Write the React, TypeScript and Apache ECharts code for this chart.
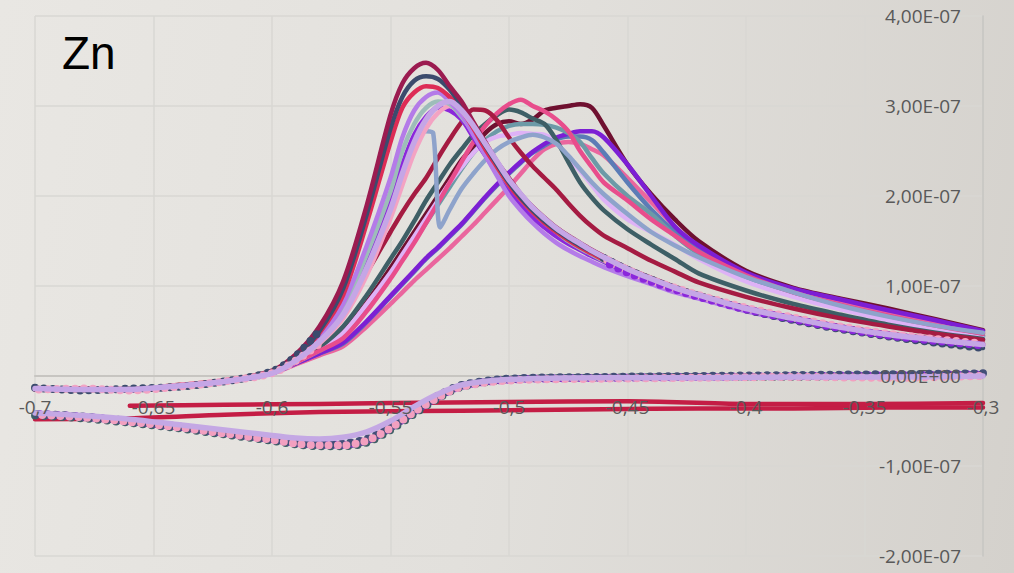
import React, { useEffect, useRef } from "react";
import * as echarts from "echarts";

// Potential (V) sampling of the forward (anodic) scans
const FWD_E = [-0.70, -0.68, -0.66, -0.64, -0.62, -0.60, -0.59, -0.58, -0.57, -0.56, -0.55, -0.545, -0.54, -0.535, -0.53, -0.525, -0.52, -0.515, -0.51, -0.505, -0.50, -0.495, -0.49, -0.485, -0.48, -0.475, -0.47, -0.465, -0.46, -0.45, -0.44, -0.43, -0.42, -0.40, -0.38, -0.36, -0.34, -0.32, -0.30];
// The scan with a sudden drop near -0.53 V
const GLITCH_E = [-0.70, -0.68, -0.66, -0.64, -0.62, -0.60, -0.59, -0.58, -0.57, -0.56, -0.55, -0.545, -0.54, -0.535, -0.532, -0.529, -0.525, -0.52, -0.515, -0.51, -0.505, -0.50, -0.495, -0.49, -0.485, -0.48, -0.475, -0.47, -0.465, -0.46, -0.45, -0.44, -0.43, -0.42, -0.40, -0.38, -0.36, -0.34, -0.32, -0.30];
// Potential (V) sampling of the reverse scans
const BWD_E = [-0.30, -0.34, -0.38, -0.42, -0.46, -0.50, -0.52, -0.53, -0.54, -0.55, -0.56, -0.57, -0.58, -0.59, -0.60, -0.62, -0.64, -0.66, -0.68, -0.70];
// Blank scans
const BLANK_UP_E = [-0.66, -0.62, -0.58, -0.55, -0.50, -0.45, -0.40, -0.35, -0.30];
const BLANK_LOW_E = [-0.70, -0.66, -0.62, -0.58, -0.54, -0.50, -0.46, -0.42, -0.38, -0.34, -0.30];

// Currents in units of 1e-7 A
const A_MAROON = [-0.14, -0.15, -0.15, -0.11, -0.05, 0.06, 0.24, 0.55, 1.05, 1.9, 2.9, 3.25, 3.42, 3.48, 3.4, 3.22, 3.05, 2.82, 2.6, 2.38, 2.2, 2.02, 1.88, 1.76, 1.65, 1.56, 1.48, 1.4, 1.33, 1.2, 1.09, 0.99, 0.91, 0.76, 0.65, 0.55, 0.47, 0.41, 0.36];
const B_NAVY = [-0.13, -0.16, -0.14, -0.12, -0.06, 0.05, 0.22, 0.5, 0.97, 1.8, 2.75, 3.1, 3.28, 3.33, 3.3, 3.18, 3.0, 2.78, 2.56, 2.35, 2.15, 1.98, 1.84, 1.72, 1.62, 1.53, 1.45, 1.38, 1.31, 1.18, 1.07, 0.97, 0.89, 0.74, 0.62, 0.52, 0.44, 0.37, 0.31];
const C_CRIMSON = [-0.15, -0.14, -0.15, -0.1, -0.05, 0.05, 0.21, 0.48, 0.9, 1.7, 2.6, 2.98, 3.15, 3.22, 3.2, 3.1, 2.95, 2.75, 2.52, 2.32, 2.12, 1.96, 1.82, 1.7, 1.6, 1.51, 1.43, 1.36, 1.29, 1.17, 1.06, 0.97, 0.89, 0.75, 0.64, 0.54, 0.46, 0.4, 0.35];
const D_LIGHTPURPLE = [-0.14, -0.15, -0.16, -0.11, -0.06, 0.04, 0.19, 0.42, 0.8, 1.45, 2.2, 2.65, 2.95, 3.1, 3.15, 3.05, 2.9, 2.68, 2.45, 2.22, 2.0, 1.84, 1.7, 1.58, 1.48, 1.4, 1.33, 1.27, 1.21, 1.11, 1.02, 0.93, 0.86, 0.72, 0.61, 0.52, 0.44, 0.38, 0.33];
const F_PALETEAL = [-0.14, -0.15, -0.15, -0.11, -0.06, 0.04, 0.19, 0.4, 0.75, 1.35, 2.05, 2.5, 2.8, 2.98, 3.05, 3.02, 2.88, 2.7, 2.5, 2.3, 2.12, 1.96, 1.82, 1.7, 1.6, 1.5, 1.42, 1.35, 1.28, 1.16, 1.05, 0.96, 0.88, 0.74, 0.63, 0.53, 0.45, 0.39, 0.34];
const G_LAVENDER = [-0.14, -0.15, -0.15, -0.11, -0.06, 0.03, 0.17, 0.38, 0.68, 1.2, 1.85, 2.25, 2.6, 2.85, 3.0, 3.05, 2.95, 2.78, 2.58, 2.38, 2.18, 2.02, 1.87, 1.75, 1.64, 1.55, 1.47, 1.39, 1.32, 1.19, 1.08, 0.98, 0.9, 0.75, 0.64, 0.54, 0.46, 0.4, 0.35];
const H_PINK = [-0.15, -0.14, -0.16, -0.12, -0.06, 0.03, 0.17, 0.36, 0.64, 1.12, 1.75, 2.12, 2.48, 2.75, 2.92, 3.0, 2.9, 2.75, 2.55, 2.35, 2.16, 2.0, 1.86, 1.74, 1.63, 1.54, 1.46, 1.38, 1.31, 1.18, 1.07, 0.98, 0.9, 0.76, 0.65, 0.55, 0.47, 0.41, 0.36];
const I_VIOLET = [-0.14, -0.15, -0.15, -0.11, -0.06, 0.04, 0.18, 0.38, 0.72, 1.28, 1.95, 2.35, 2.68, 2.88, 2.98, 2.95, 2.85, 2.65, 2.45, 2.25, 2.06, 1.9, 1.76, 1.65, 1.55, 1.47, 1.4, 1.33, 1.27, 1.15, 1.05, 0.96, 0.88, 0.74, 0.63, 0.53, 0.45, 0.39, 0.34];
const E_STEELGRAY = [-0.14, -0.15, -0.15, -0.11, -0.06, 0.04, 0.19, 0.4, 0.75, 1.32, 2.0, 2.35, 2.6, 2.72, 2.7, 1.65, 1.85, 2.08, 2.25, 2.4, 2.52, 2.6, 2.65, 2.68, 2.65, 2.58, 2.45, 2.3, 2.15, 2.02, 1.8, 1.6, 1.45, 1.32, 1.1, 0.93, 0.78, 0.66, 0.56, 0.48];
const J_DARKRED = [-0.14, -0.15, -0.15, -0.11, -0.06, 0.04, 0.17, 0.38, 0.75, 1.15, 1.6, 1.82, 2.02, 2.2, 2.42, 2.63, 2.82, 2.96, 2.95, 2.84, 2.65, 2.48, 2.33, 2.2, 2.07, 1.92, 1.78, 1.66, 1.56, 1.42, 1.28, 1.16, 1.04, 0.88, 0.75, 0.64, 0.55, 0.47, 0.4];
const K_DARKTEAL = [-0.14, -0.15, -0.15, -0.11, -0.06, 0.04, 0.16, 0.32, 0.55, 0.9, 1.3, 1.5, 1.72, 1.95, 2.15, 2.35, 2.52, 2.68, 2.8, 2.9, 2.96, 2.93, 2.86, 2.8, 2.62, 2.38, 2.15, 1.98, 1.84, 1.63, 1.46, 1.3, 1.14, 0.95, 0.8, 0.68, 0.57, 0.48, 0.41];
const L_HOTPINK = [-0.14, -0.15, -0.15, -0.11, -0.06, 0.03, 0.15, 0.28, 0.42, 0.72, 1.08, 1.28, 1.48, 1.7, 1.92, 2.15, 2.38, 2.6, 2.78, 2.92, 3.02, 3.07, 3.0, 2.94, 2.85, 2.72, 2.5, 2.32, 2.15, 1.95, 1.74, 1.56, 1.38, 1.12, 0.93, 0.79, 0.67, 0.56, 0.47];
const M_DARKMAROON = [-0.14, -0.15, -0.15, -0.11, -0.06, 0.04, 0.16, 0.3, 0.5, 0.82, 1.2, 1.4, 1.6, 1.8, 2.0, 2.2, 2.4, 2.55, 2.7, 2.8, 2.83, 2.8, 2.85, 2.95, 2.98, 3.0, 3.02, 2.98, 2.78, 2.35, 2.02, 1.74, 1.5, 1.17, 0.98, 0.86, 0.75, 0.63, 0.51];
const N_TEALGRAY = [-0.14, -0.15, -0.15, -0.11, -0.06, 0.03, 0.15, 0.28, 0.45, 0.75, 1.1, 1.3, 1.5, 1.7, 1.9, 2.1, 2.3, 2.48, 2.62, 2.72, 2.78, 2.8, 2.8, 2.79, 2.76, 2.7, 2.6, 2.42, 2.25, 2.0, 1.8, 1.56, 1.36, 1.1, 0.92, 0.77, 0.65, 0.54, 0.44];
const Q_LILAC = [-0.14, -0.15, -0.15, -0.11, -0.06, 0.03, 0.15, 0.29, 0.48, 0.8, 1.15, 1.35, 1.55, 1.75, 1.95, 2.15, 2.32, 2.48, 2.6, 2.66, 2.68, 2.7, 2.69, 2.68, 2.6, 2.42, 2.28, 2.12, 1.96, 1.74, 1.6, 1.46, 1.3, 1.05, 0.88, 0.74, 0.62, 0.52, 0.42];
const P_STEELBLUE = [-0.14, -0.15, -0.15, -0.11, -0.06, 0.03, 0.14, 0.25, 0.36, 0.6, 0.88, 1.02, 1.16, 1.3, 1.42, 1.55, 1.68, 1.83, 1.98, 2.12, 2.25, 2.37, 2.48, 2.56, 2.63, 2.66, 2.66, 2.62, 2.48, 2.15, 1.85, 1.6, 1.4, 1.1, 0.92, 0.78, 0.66, 0.55, 0.45];
const O_PURPLE = [-0.14, -0.15, -0.15, -0.11, -0.06, 0.03, 0.14, 0.25, 0.37, 0.61, 0.89, 1.03, 1.17, 1.31, 1.43, 1.56, 1.69, 1.84, 1.99, 2.13, 2.26, 2.38, 2.49, 2.58, 2.65, 2.69, 2.72, 2.72, 2.65, 2.35, 2.0, 1.66, 1.45, 1.15, 0.97, 0.85, 0.73, 0.62, 0.5];
const R_PINK = [-0.14, -0.15, -0.15, -0.11, -0.06, 0.03, 0.13, 0.23, 0.33, 0.55, 0.8, 0.93, 1.06, 1.18, 1.3, 1.42, 1.55, 1.68, 1.82, 1.96, 2.1, 2.25, 2.4, 2.52, 2.58, 2.6, 2.58, 2.52, 2.45, 2.2, 1.93, 1.66, 1.43, 1.13, 0.95, 0.81, 0.7, 0.58, 0.48];

// Reverse scans (1e-7 A)
const BACK_LAVENDER = [0.0, -0.01, -0.01, -0.02, -0.02, -0.04, -0.1, -0.2, -0.34, -0.5, -0.62, -0.68, -0.7, -0.69, -0.66, -0.6, -0.54, -0.48, -0.44, -0.41];
const BACK_NAVY = [0.03, 0.02, 0.01, 0.0, -0.01, -0.03, -0.1, -0.22, -0.38, -0.56, -0.7, -0.75, -0.76, -0.74, -0.7, -0.63, -0.56, -0.5, -0.45, -0.42];
const BACK_PINK = [0.0, -0.02, -0.01, -0.02, -0.03, -0.05, -0.12, -0.24, -0.4, -0.58, -0.72, -0.77, -0.77, -0.75, -0.71, -0.64, -0.57, -0.51, -0.46, -0.43];
const BACK_PURPLE = [0.02, 0.01, 0.0, -0.01, -0.02, -0.04, -0.11, -0.23, -0.39, -0.57, -0.71, -0.76, -0.76, -0.74, -0.7, -0.63, -0.56, -0.5, -0.45, -0.42];
const BACK_TEAL = [0.01, 0.0, -0.01, -0.01, -0.02, -0.04, -0.12, -0.25, -0.42, -0.6, -0.74, -0.78, -0.78, -0.76, -0.72, -0.65, -0.58, -0.52, -0.47, -0.44];

// Blank scans (1e-7 A)
const BLANK_UP = [-0.33, -0.32, -0.31, -0.3, -0.29, -0.28, -0.31, -0.31, -0.3];
const BLANK_LOW = [-0.48, -0.47, -0.43, -0.4, -0.39, -0.38, -0.37, -0.36, -0.36, -0.35, -0.35];

const X_MIN = -0.7;
const X_MAX = -0.3;
const X_TICK_STEP = 0.05;
const Y_TICK_STEP = 1;
const Y_MIN = -2;
const Y_MAX = 4;

const GRID_TOP = 16;
const GRID_BOTTOM = 17;
const CHART_H = 573;

const pairs = (xs: number[], ys: number[]) => xs.map((x, i) => [x, ys[i]]);

const line = (xs: number[], ys: number[], color: string, width = 4.5) => ({
  type: "line",
  data: pairs(xs, ys),
  symbol: "none",
  showSymbol: false,
  smooth: 0.3,
  silent: true,
  lineStyle: { color, width, cap: "round", join: "round" },
});

const dots = (xs: number[], ys: number[], color: string, offset = 0) => ({
  type: "line",
  data: pairs(xs, ys),
  symbol: "none",
  showSymbol: false,
  smooth: 0.3,
  silent: true,
  lineStyle: { color, width: 8, type: [0, 9], dashOffset: offset, cap: "round" },
});

const labelFont = { fontFamily: "Open Sans, sans-serif", fontSize: 19, color: "#595959" };
const xFmt = (v: number) => String(Math.round(v * 100) / 100).replace(".", ",");
const yFmt = (v: number) => (v === 0 ? "0,00E+00" : v.toFixed(2).replace(".", ",") + "E-07");

export default function App() {
  const ref = useRef<HTMLDivElement>(null);
  useEffect(() => {
    if (!ref.current) return;
    const chart = echarts.init(ref.current, null, { renderer: "svg" });
    const headF = FWD_E.slice(0, 8);
    const tailF = FWD_E.slice(28);
    const series: any[] = [
      line(BLANK_LOW_E, BLANK_LOW, "#c41d45"),
      line(BLANK_UP_E, BLANK_UP, "#c41d45"),
      line(FWD_E, R_PINK, "#ea669e"),
      line(FWD_E, P_STEELBLUE, "#5b7cb6"),
      line(FWD_E, M_DARKMAROON, "#6f1030"),
      line(FWD_E, O_PURPLE, "#7c1fd4"),
      line(FWD_E, N_TEALGRAY, "#6c9aa7"),
      line(FWD_E, Q_LILAC, "#deb2f6"),
      line(FWD_E, K_DARKTEAL, "#3e5f66"),
      line(FWD_E, L_HOTPINK, "#e84d8c"),
      line(FWD_E, J_DARKRED, "#a51b42"),
      line(GLITCH_E, E_STEELGRAY, "#8ea3cb"),
      line(FWD_E, I_VIOLET, "#8b27db"),
      line(FWD_E, H_PINK, "#f3a3c3"),
      line(FWD_E, F_PALETEAL, "#9dbdb9"),
      line(FWD_E, D_LIGHTPURPLE, "#b47be8"),
      line(FWD_E, C_CRIMSON, "#dd2c55"),
      line(FWD_E, B_NAVY, "#3b4b6d"),
      line(FWD_E, A_MAROON, "#9b1b50"),
      dots(headF, B_NAVY.slice(0, 8), "#3b4b6d", 0),
      dots(headF, H_PINK.slice(0, 8), "#f3a3c3", 4.5),
      dots(tailF, B_NAVY.slice(28), "#3b4b6d", 0),
      dots(tailF, H_PINK.slice(28), "#f3a3c3", 4.5),
      dots(tailF, I_VIOLET.slice(28), "#8b27db", 2),
      line(FWD_E, G_LAVENDER, "#c5a6e6", 5.5),
      line(BWD_E, BACK_TEAL, "#3e5f66", 4),
      dots(BWD_E, BACK_TEAL, "#3e5f66", 6),
      dots(BWD_E, BACK_PURPLE, "#8a30d8", 2),
      dots(BWD_E, BACK_NAVY, "#434f78", 0),
      dots(BWD_E, BACK_PINK, "#f2a0c0", 4.5),
      line(BWD_E, BACK_LAVENDER, "#c4a8e4", 5.5),
    ];

    // pixel distance from the plot bottom up to the zero line
    const plotH = CHART_H - GRID_TOP - GRID_BOTTOM;
    const zeroOffset = (plotH * (0 - Y_MIN)) / (Y_MAX - Y_MIN);

    const xBase = {
      type: "value",
      position: "bottom",
      offset: -zeroOffset,
      min: X_MIN,
      max: X_MAX,
      interval: X_TICK_STEP,
      axisTick: { show: false },
    };
    const yBase = {
      type: "value",
      position: "right",
      min: Y_MIN,
      max: Y_MAX,
      interval: Y_TICK_STEP,
      axisTick: { show: false },
    };

    chart.setOption({
      animation: false,
      backgroundColor: "transparent",
      grid: {
        left: 35,
        right: 31,
        top: GRID_TOP,
        bottom: GRID_BOTTOM,
        containLabel: false,
        outerBoundsMode: "none",
      },
      graphic: [
        {
          type: "text",
          left: 62,
          top: 30,
          style: { text: "Zn", fontSize: 46, fontFamily: "Liberation Sans, Arial, sans-serif", fill: "#000" },
        },
      ],
      xAxis: [
        {
          ...xBase,
          axisLine: { onZero: false, lineStyle: { color: "#c7c5c1", width: 2 } },
          axisLabel: { show: false },
          splitLine: { show: true, lineStyle: { color: "#d9d7d3", width: 1.5 } },
        },
        {
          ...xBase,
          z: 50,
          axisLine: { show: false, onZero: false },
          splitLine: { show: false },
          axisLabel: { ...labelFont, margin: 21, showMinLabel: true, showMaxLabel: true, formatter: xFmt },
        },
      ],
      yAxis: [
        {
          ...yBase,
          axisLine: { show: true, onZero: false, lineStyle: { color: "#c6c4c0", width: 1.5 } },
          axisLabel: { show: false },
          splitLine: { show: true, lineStyle: { color: "#d9d7d3", width: 1.5 } },
        },
        {
          ...yBase,
          z: 50,
          axisLine: { show: false, onZero: false },
          splitLine: { show: false },
          axisLabel: { ...labelFont, inside: true, margin: 22, formatter: yFmt },
        },
      ],
      series,
    });
    return () => chart.dispose();
  }, []);

  return (
    <div
      style={{
        position: "absolute",
        left: 0,
        top: 0,
        width: 1014,
        height: CHART_H,
        background: "linear-gradient(100deg, #e9e7e3 0%, #e2e0dc 50%, #d4d1cc 100%)",
      }}
    >
      <div ref={ref} style={{ width: 1014, height: CHART_H }} />
    </div>
  );
}
